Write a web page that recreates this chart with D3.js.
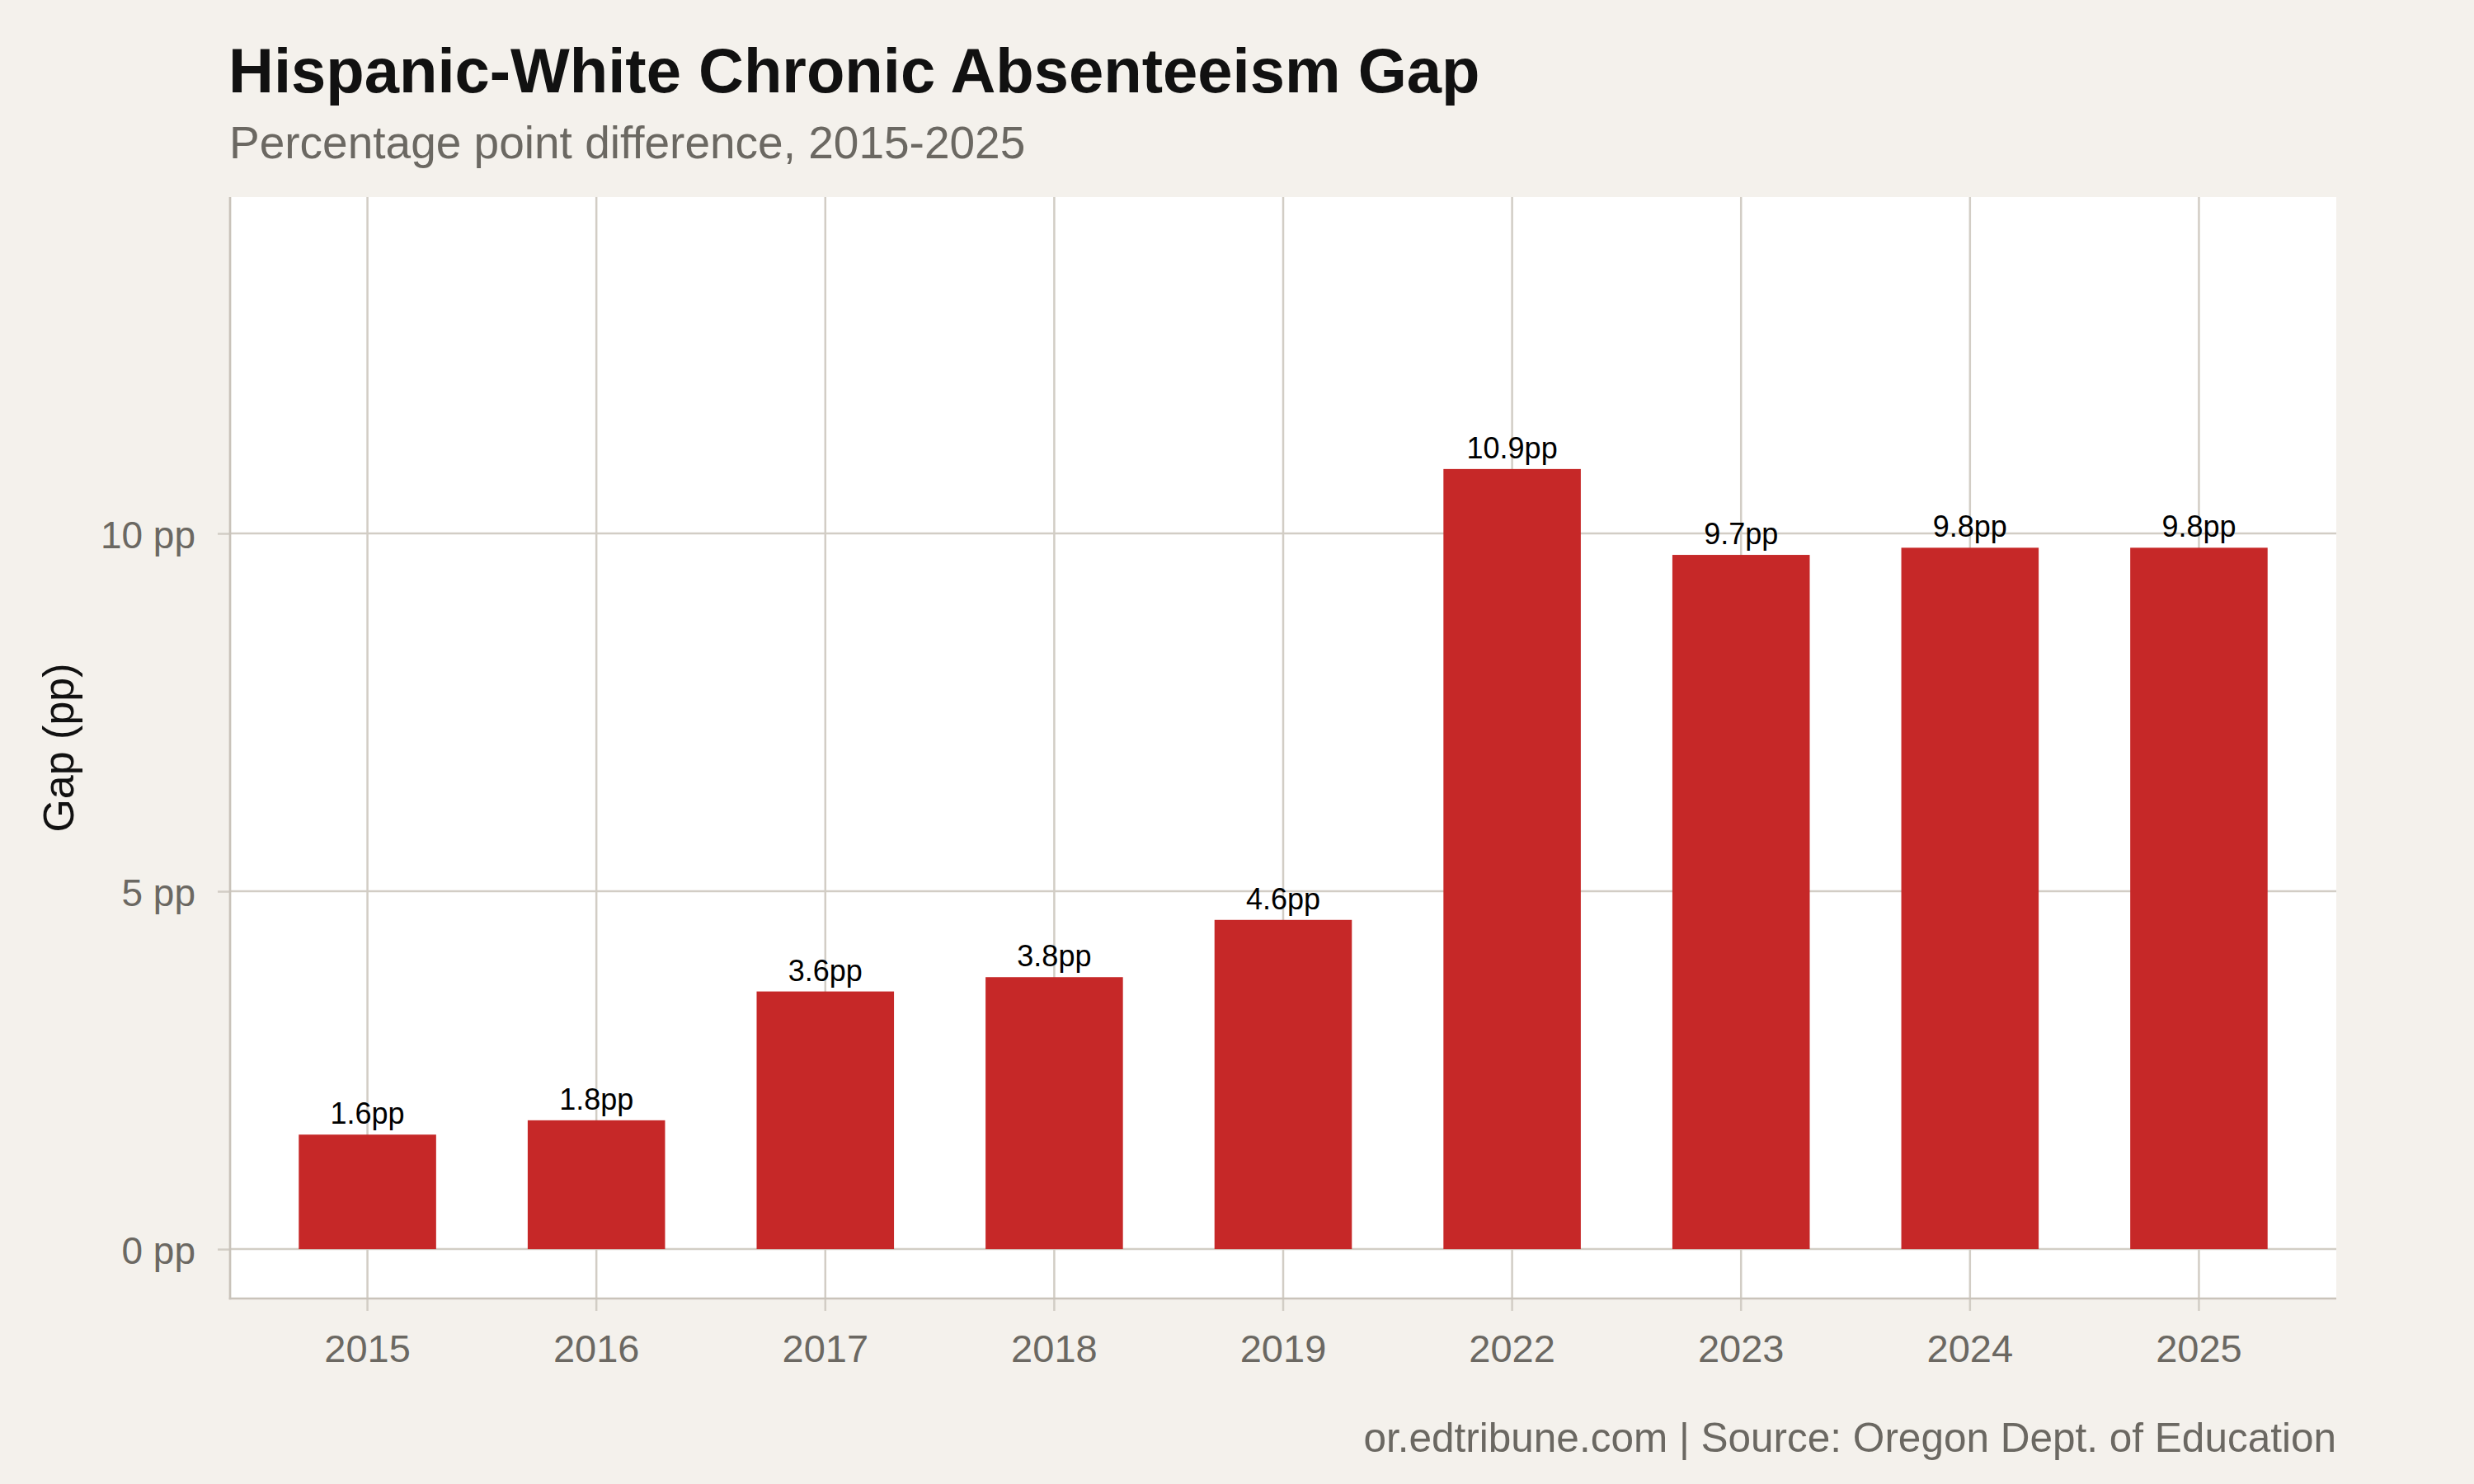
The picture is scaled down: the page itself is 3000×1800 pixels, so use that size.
<!DOCTYPE html>
<html>
<head>
<meta charset="utf-8">
<script src="https://cdn.jsdelivr.net/npm/d3@7"></script>
<style>
  html, body { margin: 0; padding: 0; background: #f4f1ec; }
  svg { display: block; }
  text { font-family: "Liberation Sans", Arial, Helvetica, sans-serif; }
</style>
</head>
<body>
<svg id="chart" width="3000" height="1800"></svg>
<script>
// ---- data ----
const years = ["2015", "2016", "2017", "2018", "2019", "2022", "2023", "2024", "2025"];
const gaps = [1.6, 1.8, 3.6, 3.8, 4.6, 10.9, 9.7, 9.8, 9.8];
const yTicks = [0, 5, 10];
const titleText = "Hispanic-White Chronic Absenteeism Gap";
const subtitleText = "Percentage point difference, 2015-2025";
const yTitle = "Gap (pp)";
const captionText = "or.edtribune.com | Source: Oregon Dept. of Education";

// ---- layout ----
const W = 3000, H = 1800;
const panel = { left: 279, right: 2833, top: 239, bottom: 1575 };
const bg = "#f4f1ec", gridCol = "#d2cdc5", axisCol = "#c9c3ba", barCol = "#c62828";
const grayText = "#6b6862";

const svg = d3.select("#chart");
svg.append("rect").attr("width", W).attr("height", H).attr("fill", bg);

const x = d3.scaleBand().domain(years)
  .range([panel.left, panel.right]).paddingInner(0.4).paddingOuter(0.3);
const y = d3.scaleLinear().domain([-0.69, 14.70]).range([panel.bottom, panel.top]);

// panel background
svg.append("rect")
  .attr("x", panel.left).attr("y", panel.top)
  .attr("width", panel.right - panel.left).attr("height", panel.bottom - panel.top)
  .attr("fill", "#ffffff");

// gridlines
const grid = svg.append("g");
grid.selectAll("line.h").data(yTicks).join("line")
  .attr("x1", panel.left).attr("x2", panel.right)
  .attr("y1", d => y(d)).attr("y2", d => y(d))
  .attr("stroke", gridCol).attr("stroke-width", 2.5);
grid.selectAll("line.v").data(years).join("line")
  .attr("x1", d => x(d) + x.bandwidth() / 2).attr("x2", d => x(d) + x.bandwidth() / 2)
  .attr("y1", panel.top).attr("y2", panel.bottom)
  .attr("stroke", gridCol).attr("stroke-width", 2.5);

// bars
const rows = years.map((yr, i) => ({ yr, v: gaps[i] }));
svg.append("g").selectAll("rect").data(rows).join("rect")
  .attr("x", d => x(d.yr)).attr("width", x.bandwidth())
  .attr("y", d => y(d.v)).attr("height", d => y(0) - y(d.v))
  .attr("fill", barCol);

// bar labels
svg.append("g").selectAll("text").data(rows).join("text")
  .attr("x", d => x(d.yr) + x.bandwidth() / 2)
  .attr("y", d => y(d.v) - 13)
  .attr("text-anchor", "middle")
  .attr("font-size", 36)
  .attr("fill", "#000")
  .text(d => d.v.toFixed(1) + "pp");

// axes
const yAxis = d3.axisLeft(y).tickValues(yTicks).tickSize(15).tickPadding(27)
  .tickFormat(d => d + " pp");
const gy = svg.append("g").attr("transform", `translate(${panel.left},0)`).call(yAxis);
gy.select(".domain").remove();
gy.selectAll(".tick line").attr("stroke", gridCol).attr("stroke-width", 2.5);
gy.selectAll(".tick text").attr("font-size", 46).attr("fill", grayText).attr("dy", "0.38em")
  .attr("font-family", '"Liberation Sans", Arial, sans-serif');

const xAxis = d3.axisBottom(x).tickSize(15).tickPadding(29);
const gx = svg.append("g").attr("transform", `translate(0,${panel.bottom})`).call(xAxis);
gx.select(".domain").remove();
gx.selectAll(".tick line").attr("stroke", gridCol).attr("stroke-width", 2.5);
gx.selectAll(".tick text").attr("font-size", 47).attr("fill", grayText)
  .attr("font-family", '"Liberation Sans", Arial, sans-serif');

// axis lines (left & bottom)
svg.append("line").attr("x1", panel.left).attr("x2", panel.left)
  .attr("y1", panel.top).attr("y2", panel.bottom + 1.25)
  .attr("stroke", axisCol).attr("stroke-width", 2.7);
svg.append("line").attr("x1", panel.left - 1.25).attr("x2", panel.right)
  .attr("y1", panel.bottom).attr("y2", panel.bottom)
  .attr("stroke", axisCol).attr("stroke-width", 2.7);

// y title
svg.append("text")
  .attr("transform", `translate(89,${(panel.top + panel.bottom) / 2}) rotate(-90)`)
  .attr("text-anchor", "middle")
  .attr("font-size", 52).attr("fill", "#111")
  .text(yTitle);

// title & subtitle
svg.append("text").attr("x", 277).attr("y", 112)
  .attr("font-size", 76).attr("font-weight", "bold").attr("fill", "#111")
  .text(titleText);
svg.append("text").attr("x", 278).attr("y", 192)
  .attr("font-size", 55).attr("fill", grayText)
  .text(subtitleText);

// caption
svg.append("text").attr("x", panel.right).attr("y", 1761)
  .attr("text-anchor", "end")
  .attr("font-size", 49.5).attr("fill", grayText)
  .text(captionText);
</script>
</body>
</html>
